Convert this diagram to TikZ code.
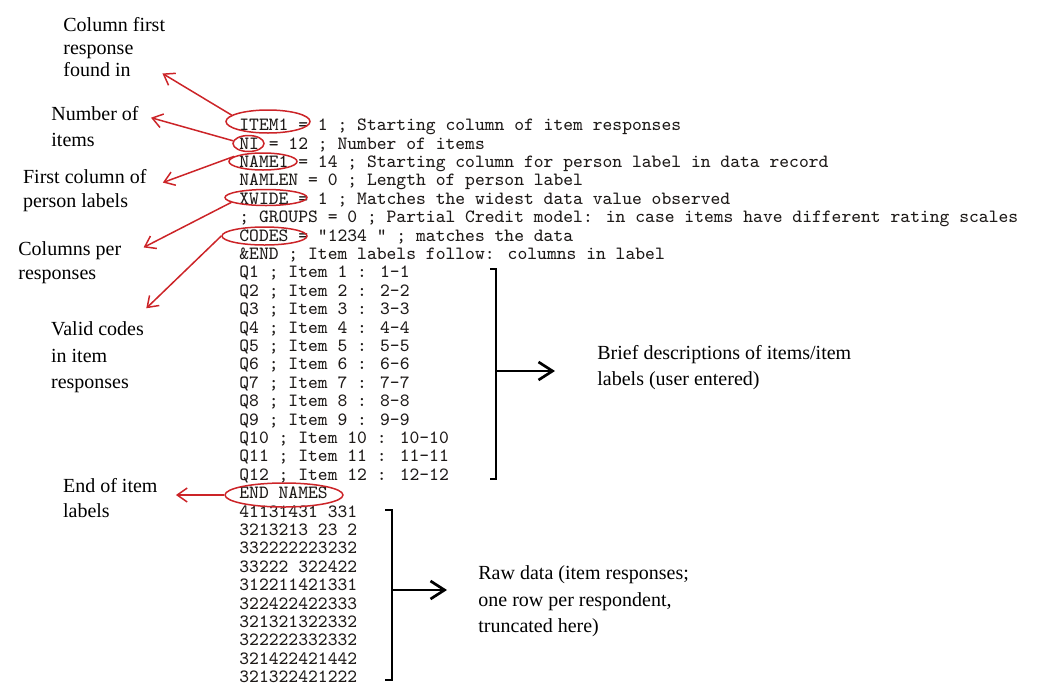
\documentclass[tikz,border=0pt]{standalone}
\usepackage{fontspec}
\setmainfont{Liberation Serif}
\usetikzlibrary{arrows.meta,shapes.geometric}
\definecolor{annot}{RGB}{204,36,40}
\definecolor{codeink}{RGB}{30,26,24}

\begin{document}
\begin{tikzpicture}[x=0.5pt, y=-0.5pt,
        codeline/.style={anchor=base west, inner sep=0pt, text=codeink, font=\ttfamily\fontsize{9.35}{10}\selectfont},
        ring/.style={ellipse, draw=annot, line width=0.75pt, inner sep=0pt},
        lbl/.style={anchor=north west, inner sep=0pt, align=left, font=\fontsize{10}{#1}\selectfont},
        lbl/.default=13pt,
        redarrow/.style={draw=annot, line width=0.75pt, -{Straight Barb[length=5pt,width=7pt]}},
        blkarrow/.style={line width=1.35pt, -{Straight Barb[length=7pt,width=9pt]}}]
        \useasboundingbox (0,0) rectangle (1043,686);

        %control file, one line per node
        \node[codeline] (L0) at (239,130.7) {ITEM1 = 1 ; Starting column of item responses};
        \node[codeline] (L1) at (239,149.1) {NI = 12 ; Number of items};
        \node[codeline] (L2) at (239,167.5) {NAME1 = 14 ; Starting column for person label in data record};
        \node[codeline] (L3) at (239,185.9) {NAMLEN = 0 ; Length of person label};
        \node[codeline] (L4) at (239,204.3) {XWIDE = 1 ; Matches the widest data value observed};
        \node[codeline] (L5) at (239,222.7) {; GROUPS = 0 ; Partial Credit model: in case items have different rating scales};
        \node[codeline] (L6) at (239,241.1) {CODES = "1234 " ; matches the data};
        \node[codeline] (L7) at (239,259.5) {\&END ; Item labels follow: columns in label};
        \node[codeline] (L8) at (239,277.9) {Q1 ; Item 1 : 1-1};
        \node[codeline] (L9) at (239,296.3) {Q2 ; Item 2 : 2-2};
        \node[codeline] (L10) at (239,314.7) {Q3 ; Item 3 : 3-3};
        \node[codeline] (L11) at (239,333.1) {Q4 ; Item 4 : 4-4};
        \node[codeline] (L12) at (239,351.5) {Q5 ; Item 5 : 5-5};
        \node[codeline] (L13) at (239,369.9) {Q6 ; Item 6 : 6-6};
        \node[codeline] (L14) at (239,388.3) {Q7 ; Item 7 : 7-7};
        \node[codeline] (L15) at (239,406.7) {Q8 ; Item 8 : 8-8};
        \node[codeline] (L16) at (239,425.1) {Q9 ; Item 9 : 9-9};
        \node[codeline] (L17) at (239,443.5) {Q10 ; Item 10 : 10-10};
        \node[codeline] (L18) at (239,461.9) {Q11 ; Item 11 : 11-11};
        \node[codeline] (L19) at (239,480.3) {Q12 ; Item 12 : 12-12};
        \node[codeline] (L20) at (239,498.7) {END NAMES};
        \node[codeline] (D1) at (239,517.1) {41131431 331};
        \node[codeline] (D2) at (239,535.5) {3213213 23 2};
        \node[codeline] (D3) at (239,553.9) {332222223232};
        \node[codeline] (D4) at (239,572.3) {33222 322422};
        \node[codeline] (D5) at (239,590.7) {312211421331};
        \node[codeline] (D6) at (239,609.1) {322422422333};
        \node[codeline] (D7) at (239,627.5) {321321322332};
        \node[codeline] (D8) at (239,645.9) {322222332332};
        \node[codeline] (D9) at (239,664.3) {321422421442};
        \node[codeline] (D10) at (239,682.7) {321322421222};

        \node[ring, minimum width=42pt, minimum height=11.5pt] (Eitem) at (268,121.5) {};
        \node[ring, minimum width=15.5pt, minimum height=8pt] (Eni) at (248.5,143.5) {};
        \node[ring, minimum width=34pt, minimum height=8.5pt] (Ename) at (263,161.5) {};
        \node[ring, minimum width=41pt, minimum height=8pt] (Exwide) at (266,197.5) {};
        \node[ring, minimum width=42.5pt, minimum height=9pt] (Ecodes) at (264.5,236) {};
        \node[ring, minimum width=59pt, minimum height=12pt] (Eend) at (284,495) {};

        \node[lbl=11.35pt] (Tfirst) at (63,17) {Column first\\response\\found in};
        \node[lbl=12.85pt] (Tni) at (51,106.3) {Number of\\items};
        \node[lbl=12pt] (Tperson) at (22.7,169) {First column of\\person labels};
        \node[lbl=12.15pt] (Tcols) at (18,241.3) {Columns per\\responses};
        \node[lbl=13.3pt] (Tvalid) at (50.7,321.3) {Valid codes\\in item\\responses};
        \node[lbl=12.5pt] (Tend) at (62.7,478) {End of item\\labels};
        \node[lbl] (Tbrief) at (597,345.3) {Brief descriptions of items/item\\labels (user entered)};
        \node[lbl=13.25pt] (Traw) at (478,565.3) {Raw data (item responses;\\one row per respondent,\\truncated here)};

        \draw[redarrow] (Eitem.170) -- ([shift={(-3,-4)}]Tfirst.south east);
        \draw[redarrow] (Eni.170) -- ([shift={(12,-9)}]Tni.east);
        \draw[redarrow] (Ename.170) -- ([shift={(16,-8)}]Tperson.east);
        \draw[redarrow] (Exwide.188) -- ([shift={(22,-15.5)}]Tcols.east);
        \draw[redarrow] (Ecodes.west) -- ([shift={(2,-13)}]Tvalid.north east);
        \draw[redarrow, shorten >=9pt] (Eend.west) -- (Eend.west -| Tend.east);

        \coordinate (B1) at (496,371);
        \coordinate (B2) at (392,590);
        \draw[line width=1.35pt] (490,269) -- (496,269) -- (496,479) -- (490,479);
        \draw[line width=1.35pt] (385,510) -- (392,510) -- (392,680) -- (385,680);
        \draw[blkarrow, shorten >=21pt] (B1) -- (B1 -| Tbrief.west);
        \draw[blkarrow, shorten >=15.5pt] (B2) -- (B2 -| Traw.west);
\end{tikzpicture}
\end{document}
